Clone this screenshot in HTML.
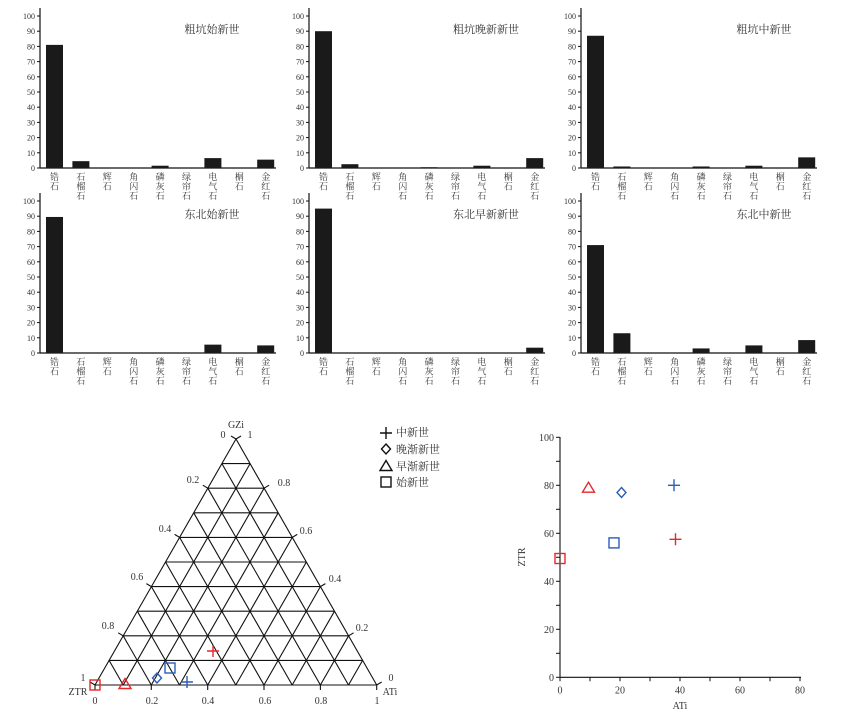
<!DOCTYPE html>
<html><head><meta charset="utf-8"><style>
html,body{margin:0;padding:0;background:#fff}
svg{display:block}
text{font-family:"Liberation Serif","Noto Serif CJK SC",serif;fill:#333}
</style></head><body>
<svg id="s" width="860" height="715" viewBox="0 0 860 715" xmlns="http://www.w3.org/2000/svg"></svg>
<script>
var s=[];
var cats=[["锆","石"],["石","榴","石"],["辉","石"],["角","闪","石"],["磷","灰","石"],["绿","帘","石"],["电","气","石"],["榍","石"],["金","红","石"]];
var panels=[
 [40,168,"粗坑始新世",[81,4.5,0,0,1.5,0,6.5,0,5.5],212],
 [309,168,"粗坑晚新新世",[90,2.5,0,0,0.5,0,1.5,0,6.5],486],
 [581,168,"粗坑中新世",[87,1,0,0,1,0,1.5,0,7],764],
 [40,353,"东北始新世",[89.5,0,0,0,0,0,5.5,0,5],212],
 [309,353,"东北早新新世",[95,0,0,0,0,0,0,0,3.5],486],
 [581,353,"东北中新世",[71,13,0,0,3,0,5,0,8.5],764]];
panels.forEach(function(p){
 var ax=p[0],y0=p[1],h=152,sc=h/100;
 s.push('<line x1="'+ax+'" y1="'+(y0-h-8)+'" x2="'+ax+'" y2="'+y0+'" stroke="#111" stroke-width="1.2"/>');
 s.push('<line x1="'+ax+'" y1="'+y0+'" x2="'+(ax+236)+'" y2="'+y0+'" stroke="#111" stroke-width="1.2"/>');
 for(var v=0;v<=100;v+=10){var y=y0-v*sc;
  s.push('<line x1="'+(ax-3)+'" y1="'+y+'" x2="'+ax+'" y2="'+y+'" stroke="#111"/>');
  s.push('<text x="'+(ax-5)+'" y="'+(y+3)+'" font-size="8" text-anchor="end">'+v+'</text>');}
 p[3].forEach(function(v,i){var x=ax+6+i*26.4;
  if(v>0)s.push('<rect x="'+x+'" y="'+(y0-v*sc)+'" width="17" height="'+(v*sc)+'" fill="#1a1a1a"/>');
  cats[i].forEach(function(c,j){s.push('<text x="'+(x+8.5)+'" y="'+(y0+12+j*9.5)+'" font-size="9" text-anchor="middle">'+c+'</text>');});
 });
 s.push('<text x="'+p[4]+'" y="'+(y0-135)+'" font-size="11" text-anchor="middle">'+p[2]+'</text>');
});
// ternary
var A=[95,685],B=[376.7,685],C=[236,439];
function P(a,b,c){return [A[0]*a+B[0]*b+C[0]*c,A[1]*a+B[1]*b+C[1]*c];}
function L(p,q){s.push('<line x1="'+p[0].toFixed(1)+'" y1="'+p[1].toFixed(1)+'" x2="'+q[0].toFixed(1)+'" y2="'+q[1].toFixed(1)+'" stroke="#111" stroke-width="1.1"/>');}
L(A,B);L(B,C);L(C,A);
for(var i=1;i<10;i++){var t=i/10;
 L(P(1-t,0,t),P(0,1-t,t));
 L(P(1-t,t,0),P(0,t,1-t));
 L(P(t,1-t,0),P(t,0,1-t));}
// ticks
for(var i=0;i<=10;i+=2){var t=i/10;var p=P(t,1-t,0);L(p,[p[0],p[1]+5]);
 var q=P(1-t,0,t);L(q,[q[0]-5,q[1]-3]);var r=P(0,t,1-t);L(r,[r[0]+5,r[1]-3]);}
var T=function(x,y,t,a){s.push('<text x="'+x+'" y="'+y+'" font-size="10" text-anchor="'+(a||"middle")+'">'+t+'</text>');};
[["0",95],["0.2",152],["0.4",208],["0.6",265],["0.8",321],["1",377]].forEach(function(e){T(e[1],704,e[0]);});
[["0",223,438],["0.2",193,483],["0.4",165,532],["0.6",137,580],["0.8",108,629],["1",83,681]].forEach(function(e){T(e[1],e[2],e[0]);});
[["1",250,438],["0.8",284,486],["0.6",306,534],["0.4",335,582],["0.2",362,631],["0",391,681]].forEach(function(e){T(e[1],e[2],e[0]);});
T(236,428,"GZi");T(78,695,"ZTR");T(390,695,"ATi");
var R="#e8262b",Bl="#2a5db8";
function plus(x,y,c){s.push('<path d="M'+(x-6)+' '+y+'H'+(x+6)+'M'+x+' '+(y-6)+'V'+(y+6)+'" stroke="'+c+'" stroke-width="1.4" fill="none"/>');}
function sq(x,y,c){s.push('<rect x="'+(x-5)+'" y="'+(y-5)+'" width="10" height="10" stroke="'+c+'" stroke-width="1.4" fill="none"/>');}
function di(x,y,c){s.push('<path d="M'+x+' '+(y-5)+'L'+(x+4.5)+' '+y+'L'+x+' '+(y+5)+'L'+(x-4.5)+' '+y+'Z" stroke="'+c+'" stroke-width="1.4" fill="none"/>');}
function tr(x,y,c){s.push('<path d="M'+x+' '+(y-5.5)+'L'+(x+6)+' '+(y+4.5)+'L'+(x-6)+' '+(y+4.5)+'Z" stroke="'+c+'" stroke-width="1.4" fill="none"/>');}
sq(95,685,R);tr(125,684,R);di(157,678,Bl);sq(170,668,Bl);plus(187,682,Bl);plus(213,651,R);
// legend
plus(386,433,"#111");di(386,449,"#111");tr(386,466,"#111");sq(386,482,"#111");
[["中新世",436],["晚渐新世",453],["早渐新世",470],["始新世",486]].forEach(function(e){s.push('<text x="396" y="'+e[1]+'" font-size="11">'+e[0]+'</text>');});
// scatter
var ox=560,oy=677.3;
s.push('<line x1="'+ox+'" y1="437" x2="'+ox+'" y2="'+oy+'" stroke="#111" stroke-width="1.1"/>');
s.push('<line x1="'+ox+'" y1="'+oy+'" x2="801" y2="'+oy+'" stroke="#111" stroke-width="1.1"/>');
for(var v=0;v<=100;v+=10){var y=oy-v*2.4;s.push('<line x1="'+(ox-4)+'" y1="'+y+'" x2="'+ox+'" y2="'+y+'" stroke="#111"/>');
 if(v%20==0)T(ox-6,y+3.5,v,"end");}
for(var v=0;v<=80;v+=10){var x=ox+v*3;s.push('<line x1="'+x+'" y1="'+oy+'" x2="'+x+'" y2="'+(oy+4)+'" stroke="#111"/>');
 if(v%20==0)T(x,oy+16,v);}
T(680,709,"ATi");
s.push('<text x="525" y="557" font-size="10" text-anchor="middle" transform="rotate(-90 525 557)">ZTR</text>');
function S(v,w){return [ox+v*3,oy-w*2.4];}
var q;
q=S(9.5,79);tr(q[0],q[1],R);q=S(20.5,77);di(q[0],q[1],Bl);q=S(38,80);plus(q[0],q[1],Bl);
q=S(18,56);sq(q[0],q[1],Bl);q=S(38.5,57.5);plus(q[0],q[1],R);q=S(0,49.5);sq(q[0],q[1],R);
document.getElementById("s").innerHTML=s.join("");
</script>
</body></html>
